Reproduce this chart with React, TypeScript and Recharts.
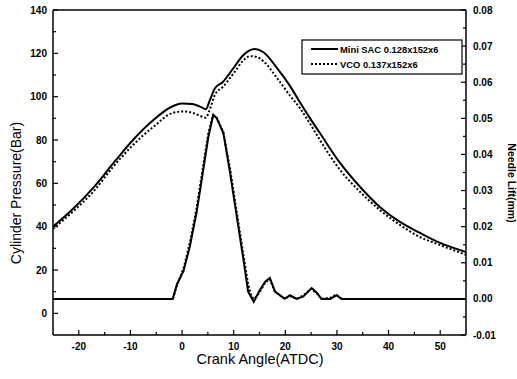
import React from 'react';
import { LineChart, Line, XAxis, YAxis, ReferenceLine } from 'recharts';

// Cylinder pressure (Bar) vs crank angle (ATDC)
const sacPressureAngles = [-25, -21, -17, -13, -9.5, -5.5, -2.3, 0, 2, 3.7, 4.6, 5.4, 6.4, 7.9, 9.9, 11.8, 13, 14.1, 15.7, 18.4, 20.9, 22.8, 24.8, 26.7, 30.6, 34.5, 38.3, 42.2, 46.1, 50, 55];
const sacPressure = [40, 48.5, 58.5, 70.2, 80, 89.3, 95, 96.8, 96.6, 95.2, 94.2, 98.5, 104, 106.8, 113, 119, 121.3, 122, 120.6, 113.2, 105, 97.5, 90, 83.2, 69.4, 58.3, 49.1, 42.2, 37.1, 32.5, 28.3];

const vcoPressureAngles = [-25, -21, -17.25, -13.4, -9.5, -5.6, -1.8, 0.2, 2.1, 4.1, 4.6, 5.2, 6.4, 7.9, 9.9, 11.8, 13.2, 14.5, 15.7, 18.4, 20.9, 22.8, 24.8, 26.7, 30.6, 34.5, 38.3, 42.2, 46.1, 50, 55];
const vcoPressure = [39, 47.3, 56, 67.5, 77.7, 86, 92.5, 93.2, 92.5, 90.6, 90.3, 93, 101, 104.5, 110.5, 116.5, 118.7, 118.3, 116.5, 108.6, 100.5, 94.8, 87.5, 80, 66.2, 56, 47.7, 40.8, 35.2, 31.5, 27];

// Needle lift (mm) vs crank angle (ATDC)
const sacLiftAngles = [-25, -1.8, -1.0, 0.3, 1.5, 2.8, 4.1, 5.1, 6.05, 6.7, 8.0, 9.3, 10.6, 11.9, 12.8, 13.9, 15.1, 16.1, 17.0, 18.0, 19.9, 20.9, 22.2, 23.5, 25.1, 26.1, 27.0, 28.7, 29.9, 30.9, 55];
const sacLift = [0, 0, 0.004, 0.0078, 0.0145, 0.0238, 0.0357, 0.0449, 0.051, 0.0501, 0.0459, 0.0349, 0.0228, 0.0108, 0.002, -0.0008, 0.0025, 0.0048, 0.0058, 0.002, 0, 0.001, 0, 0.0007, 0.003, 0.0017, 0, 0, 0.001, 0, 0];

const vcoLiftAngles = [-25, -1.8, -0.8, 0.3, 1.5, 2.8, 4.1, 5.1, 6.0, 6.7, 8.0, 9.3, 10.6, 11.9, 12.8, 13.5, 14.0, 15.1, 16.1, 17.0, 18.0, 19.9, 20.9, 22.2, 23.5, 25.0, 26.1, 27.0, 28.7, 29.9, 30.9, 55];
const vcoLift = [0, 0, 0.0045, 0.0085, 0.0155, 0.025, 0.037, 0.046, 0.0508, 0.0502, 0.0462, 0.036, 0.024, 0.012, 0.004, 0.0005, 0, 0.002, 0.0045, 0.0055, 0.002, 0, 0.0008, 0, 0.001, 0.0028, 0.0015, 0, 0.0003, 0.0012, 0, 0];

// Ticks (major ones get labels)
const xTicks = [-20, -15, -10, -5, 0, 5, 10, 15, 20, 25, 30, 35, 40, 45, 50];
const xMajor = [-20, -10, 0, 10, 20, 30, 40, 50];
const leftTicks = [0, 10, 20, 30, 40, 50, 60, 70, 80, 90, 100, 110, 120, 130, 140];
const leftMajor = [0, 20, 40, 60, 80, 100, 120, 140];
const rightTicks = [-0.01, -0.005, 0, 0.005, 0.01, 0.015, 0.02, 0.025, 0.03, 0.035, 0.04, 0.045, 0.05, 0.055, 0.06, 0.065, 0.07, 0.075, 0.08];
const rightMajor = [-0.01, 0, 0.01, 0.02, 0.03, 0.04, 0.05, 0.06, 0.07, 0.08];

const legendNames = ['Mini SAC 0.128x152x6', 'VCO 0.137x152x6'];

const zip = (xs: number[], ys: number[]) => xs.map((x, i) => ({ x, y: ys[i] }));

const FONT = '"Liberation Sans", Arial, sans-serif';
const isIn = (arr: number[], v: number) => arr.some((a) => Math.abs(a - v) < 1e-9);

const LeftTick = (props: any) => {
  const { x, y, payload } = props;
  const major = isIn(leftMajor, payload.value);
  return (
    <g>
      <line x1={x} x2={x + (major ? 5 : 3)} y1={y} y2={y} stroke="#000" strokeWidth={1.2} />
      {major && (
        <text x={x - 6} y={y} dy="0.35em" textAnchor="end" fontFamily={FONT} fontWeight="bold" fontSize={10} fill="#000">
          {payload.value}
        </text>
      )}
    </g>
  );
};

const RightTick = (props: any) => {
  const { x, y, payload } = props;
  const major = isIn(rightMajor, payload.value);
  return (
    <g>
      <line x1={x} x2={x - (major ? 5 : 3)} y1={y} y2={y} stroke="#000" strokeWidth={1.2} />
      {major && (
        <text x={x + 7} y={y} dy="0.35em" textAnchor="start" fontFamily={FONT} fontWeight="bold" fontSize={10} fill="#000">
          {payload.value.toFixed(2)}
        </text>
      )}
    </g>
  );
};

const BottomTick = (props: any) => {
  const { x, y, payload } = props;
  const major = isIn(xMajor, payload.value);
  return (
    <g>
      <line x1={x} x2={x} y1={y} y2={y - (major ? 5 : 3)} stroke="#000" strokeWidth={1.2} />
      {major && (
        <text x={x} y={y + 15} textAnchor="middle" fontFamily={FONT} fontWeight="bold" fontSize={10} fill="#000">
          {payload.value}
        </text>
      )}
    </g>
  );
};

export default function App() {
  return (
    <div style={{ position: 'fixed', left: 0, top: 0, width: 517, height: 379, background: '#fff' }}>
      <LineChart width={517} height={379} margin={{ top: 10, right: 0, bottom: 0, left: 0 }}>
        <XAxis
          dataKey="x"
          type="number"
          domain={[-25, 55]}
          allowDataOverflow
          ticks={xTicks}
          interval={0}
          height={44}
          tickSize={0}
          tickMargin={0}
          tickLine={false}
          tick={<BottomTick />}
          axisLine={{ stroke: '#000', strokeWidth: 1.5 }}
        />
        <YAxis
          yAxisId="left"
          orientation="left"
          type="number"
          domain={[-10, 140]}
          allowDataOverflow
          ticks={leftTicks}
          interval={0}
          width={53}
          tickSize={0}
          tickMargin={0}
          tickLine={false}
          tick={<LeftTick />}
          axisLine={{ stroke: '#000', strokeWidth: 1.5 }}
        />
        <YAxis
          yAxisId="right"
          orientation="right"
          type="number"
          domain={[-0.01, 0.08]}
          allowDataOverflow
          ticks={rightTicks}
          interval={0}
          width={51}
          tickSize={0}
          tickMargin={0}
          tickLine={false}
          tick={<RightTick />}
          axisLine={{ stroke: '#000', strokeWidth: 1.5 }}
        />
        <ReferenceLine yAxisId="left" y={140} stroke="#000" strokeWidth={1.5} />
        <Line
          yAxisId="left"
          data={zip(vcoPressureAngles, vcoPressure)}
          dataKey="y"
          type="monotone"
          stroke="#000"
          strokeWidth={2}
          strokeDasharray="2 2"
          dot={false}
          isAnimationActive={false}
          name={legendNames[1]}
        />
        <Line
          yAxisId="left"
          data={zip(sacPressureAngles, sacPressure)}
          dataKey="y"
          type="monotone"
          stroke="#000"
          strokeWidth={2}
          dot={false}
          isAnimationActive={false}
          name={legendNames[0]}
        />
        <Line
          yAxisId="right"
          data={zip(vcoLiftAngles, vcoLift)}
          dataKey="y"
          type="linear"
          stroke="#000"
          strokeWidth={2}
          strokeDasharray="2 2"
          dot={false}
          isAnimationActive={false}
        />
        <Line
          yAxisId="right"
          data={zip(sacLiftAngles, sacLift)}
          dataKey="y"
          type="linear"
          stroke="#000"
          strokeWidth={2}
          dot={false}
          isAnimationActive={false}
        />
      </LineChart>
      <svg width={517} height={379} style={{ position: 'absolute', left: 0, top: 0, pointerEvents: 'none' }}>
        <text x={260} y={364} textAnchor="middle" fontFamily={FONT} fontSize={14.5} fill="#000">
          Crank Angle(ATDC)
        </text>
        <text transform="translate(21,193) rotate(-90)" textAnchor="middle" fontFamily={FONT} fontSize={14} fill="#000">
          Cylinder Pressure(Bar)
        </text>
        <text transform="translate(508,183) rotate(90)" textAnchor="middle" fontFamily={FONT} fontWeight="bold" fontSize={10.5} fill="#000">
          Needle Lift(mm)
        </text>
        <rect x={302} y={40} width={160} height={34} fill="#fff" stroke="#000" strokeWidth={1.2} />
        <line x1={311} x2={338} y1={49} y2={49} stroke="#000" strokeWidth={2} />
        <text x={340} y={52.5} fontFamily={FONT} fontWeight="bold" fontSize={9.4} fill="#000">
          {legendNames[0]}
        </text>
        <line x1={311} x2={338} y1={64} y2={64} stroke="#000" strokeWidth={2} strokeDasharray="2 2" />
        <text x={340} y={67.5} fontFamily={FONT} fontWeight="bold" fontSize={9.4} fill="#000">
          {legendNames[1]}
        </text>
      </svg>
    </div>
  );
}
